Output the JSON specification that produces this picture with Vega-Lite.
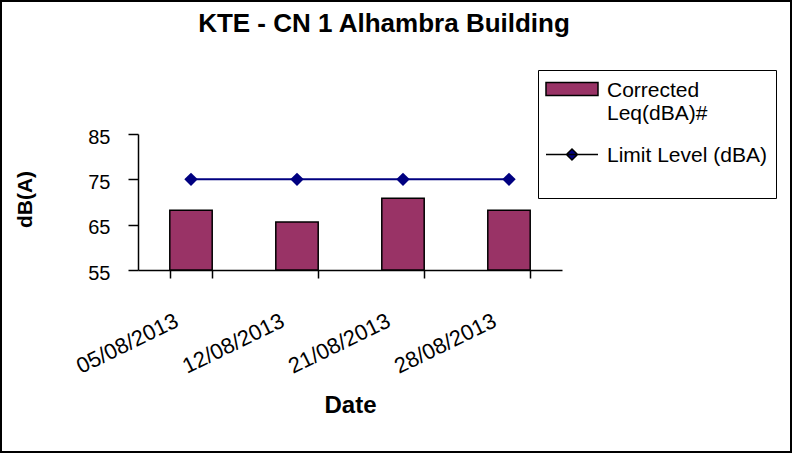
{
  "$schema": "https://vega.github.io/schema/vega-lite/v6.json",
  "width": 790,
  "height": 451,
  "autosize": {"type": "none"},
  "padding": {"left": 1, "top": 1, "right": 1, "bottom": 3},
  "background": "white",
  "config": {
    "view": {"stroke": "#000000", "strokeWidth": 2},
    "font": "Liberation Sans"
  },
  "title": {
    "text": "KTE - CN 1 Alhambra Building",
    "font": "Liberation Sans",
    "fontSize": 26,
    "fontWeight": "bold",
    "color": "black",
    "offset": -36,
    "dx": -12,
    "anchor": "middle"
  },
  "layer": [
    {
      "data": {
        "values": [
          {"date": "05/08/2013", "level": 68.2, "series": "Corrected Leq(dBA)#"},
          {"date": "12/08/2013", "level": 65.6, "series": "Corrected Leq(dBA)#"},
          {"date": "21/08/2013", "level": 70.8, "series": "Corrected Leq(dBA)#"},
          {"date": "28/08/2013", "level": 68.2, "series": "Corrected Leq(dBA)#"}
        ]
      },
      "mark": {"type": "bar", "stroke": "black", "strokeWidth": 1.5},
      "encoding": {
        "x": {
          "field": "date",
          "type": "ordinal",
          "sort": null,
          "scale": {"range": [137, 561], "paddingInner": 0.6, "paddingOuter": 0.3},
          "axis": {
            "title": "Date",
            "titleFontSize": 24,
            "titleFontWeight": "bold",
            "titleColor": "black",
            "titleX": 349,
            "titleY": 142,
            "titleBaseline": "alphabetic",
            "titleAlign": "center",
            "offset": -182,
            "domainColor": "black",
            "domainWidth": 1.5,
            "tickColor": "black",
            "tickWidth": 1.5,
            "tickSize": 8,
            "tickBand": "extent",
            "labelAngle": -26,
            "labelAlign": "right",
            "labelBaseline": "top",
            "labelFontSize": 22,
            "labelColor": "black",
            "labelPadding": 32,
            "labelOffset": -19,
            "labelOverlap": false,
            "labelBound": false,
            "labelFlush": false,
            "grid": false
          }
        },
        "y": {
          "field": "level",
          "type": "quantitative",
          "scale": {"domain": [55, 85], "range": [269, 133], "nice": false, "zero": false},
          "axis": {
            "title": "dB(A)",
            "titleFontSize": 21,
            "titleFontWeight": "bold",
            "titleColor": "black",
            "titleX": -113,
            "titleY": 198,
            "titleAngle": 270,
            "titleBaseline": "middle",
            "titleAlign": "center",
            "offset": -137,
            "values": [55, 65, 75, 85],
            "domainColor": "black",
            "domainWidth": 1.5,
            "tickColor": "black",
            "tickWidth": 1.5,
            "tickSize": 10,
            "labelPadding": 18,
            "labelFontSize": 20,
            "labelColor": "black",
            "labelOffset": 3,
            "grid": false
          }
        },
        "y2": {"datum": 55},
        "color": {
          "field": "series",
          "type": "nominal",
          "scale": {"domain": ["Corrected Leq(dBA)#", "Limit Level (dBA)"], "range": ["#993366", "#000080"]},
          "legend": {
            "title": " ",
            "titleFontSize": 2,
            "titlePadding": 5,
            "orient": "none",
            "legendX": 537,
            "legendY": 69,
            "padding": 9,
            "strokeColor": "black",
            "fillColor": "white",
            "symbolSize": 169,
            "labelFontSize": 21,
            "labelColor": "black",
            "labelOffset": 39,
            "labelBaseline": "alphabetic",
            "labelLimit": 400,
            "rowPadding": 20,
            "labelExpr": "datum.label == 'Corrected Leq(dBA)#' ? ['Corrected', 'Leq(dBA)#'] : [datum.label, '']",
            "encode": {
              "symbols": {
                "stroke": {
                  "condition": {"test": "datum.value === 'Limit Level (dBA)'", "value": "#000080"},
                  "value": "black"
                },
                "strokeWidth": {"value": 1.5},
                "opacity": {"value": 1}
              }
            }
          }
        }
      }
    },
    {
      "data": {
        "values": [
          {"date": "05/08/2013", "level": 75, "series": "Limit Level (dBA)"},
          {"date": "12/08/2013", "level": 75, "series": "Limit Level (dBA)"},
          {"date": "21/08/2013", "level": 75, "series": "Limit Level (dBA)"},
          {"date": "28/08/2013", "level": 75, "series": "Limit Level (dBA)"}
        ]
      },
      "mark": {
        "type": "line",
        "color": "#000080",
        "strokeWidth": 2,
        "point": {"filled": true, "shape": "diamond", "size": 180, "opacity": 1, "color": "#000080"}
      },
      "encoding": {
        "x": {"field": "date", "type": "ordinal", "sort": null},
        "y": {"field": "level", "type": "quantitative"}
      }
    },
    {
      "data": {"values": []},
      "mark": {"type": "point", "filled": true},
      "encoding": {
        "shape": {
          "field": "series",
          "type": "nominal",
          "scale": {
            "domain": ["Corrected Leq(dBA)#", "Limit Level (dBA)"],
            "range": ["M-1.77,-2.15H6.23V-0.15H-1.77Z", "M-1.77,-1.08H6.23M2.23,-1.93L3.08,-1.08L2.23,-0.23L1.38,-1.08Z"]
          }
        }
      }
    }
  ]
}
